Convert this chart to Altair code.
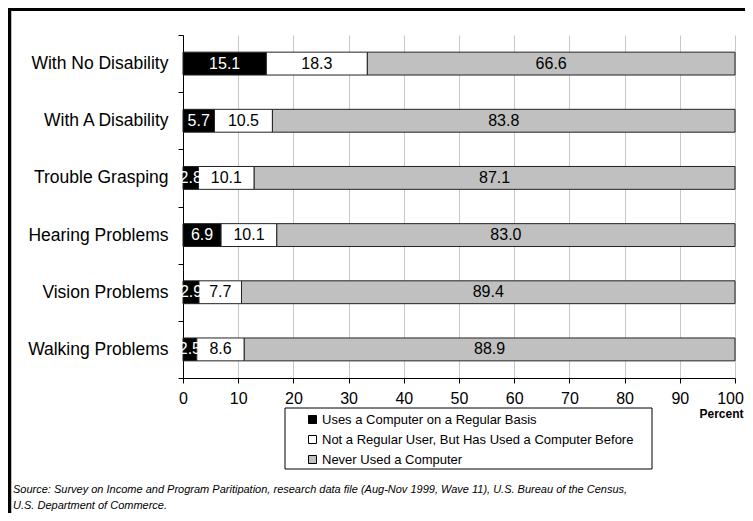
import altair as alt
import pandas as pd

groups = ["With No Disability", "With A Disability", "Trouble Grasping",
          "Hearing Problems", "Vision Problems", "Walking Problems"]
series = ["Uses a Computer on a Regular Basis",
          "Not a Regular User, But Has Used a Computer Before",
          "Never Used a Computer"]
regular = [15.1, 5.7, 2.8, 6.9, 2.9, 2.5]
used_before = [18.3, 10.5, 10.1, 10.1, 7.7, 8.6]
never = [66.6, 83.8, 87.1, 83.0, 89.4, 88.9]
bar_colors = ["#000000", "#ffffff", "#c0c0c0"]
label_colors = ["#ffffff", "#000000", "#000000"]
x_ticks = [0, 10, 20, 30, 40, 50, 60, 70, 80, 90, 100]
source_lines = [
    "Source: Survey on Income and Program Paritipation, research data file (Aug-Nov 1999, Wave 11),  U.S. Bureau of the Census,",
    "U.S. Department of Commerce.",
]

FONT = "Liberation Sans"

rows = []
for i, g in enumerate(groups):
    vals = [regular[i], used_before[i], never[i]]
    start = 0.0
    for s, v in zip(series, vals):
        rows.append({"group": g, "series": s, "value": v,
                     "start": start, "end": start + v, "mid": start + v / 2})
        start += v
df = pd.DataFrame(rows)

x_axis = alt.Axis(values=x_ticks, grid=True, gridColor="#c8c8c8", gridWidth=1,
                  domainColor="black", tickColor="black", tickSize=5,
                  labelFontSize=16, labelPadding=7, labelColor="black", labelFlush=False,
                  labelOffset={"condition": {"test": "datum.value === 100", "value": -5},
                               "value": 0},
                  title="Percent", titleX=560, titleY=39.5, titleAlign="right",
                  titleAnchor="end", titleBaseline="alphabetic",
                  titleFontWeight="bold", titleFontSize=12, titleColor="black")
y_axis = alt.Axis(title=None, grid=False, domainColor="black", tickColor="black",
                  tickSize=5, tickBand="extent", labelFontSize=17.5, labelPadding=10,
                  labelColor="black")
x_scale = alt.Scale(domain=[0, 100], nice=False, zero=True)
y_scale = alt.Scale(paddingInner=0, paddingOuter=0)

bars = alt.Chart(df).mark_bar(stroke="#222222", strokeWidth=1, height={"band": 0.4}).encode(
    y=alt.Y("group:N", sort=groups, scale=y_scale, axis=y_axis),
    x=alt.X("start:Q", scale=x_scale, axis=x_axis),
    x2="end:Q",
    fill=alt.Fill("series:N", scale=alt.Scale(domain=series, range=bar_colors),
                  legend=alt.Legend(orient="none", legendX=123, legendY=378, title=None,
                                    direction="vertical", symbolType="square",
                                    symbolSize=64, symbolStrokeColor="black",
                                    symbolStrokeWidth=1, labelFontSize=13, labelFont=FONT,
                                    labelColor="black", labelOffset=3, rowPadding=6,
                                    padding=0, labelLimit=600)),
)

labels = alt.Chart(df).mark_text(font=FONT, fontSize=16).encode(
    y=alt.Y("group:N", sort=groups, scale=y_scale, axis=y_axis),
    x=alt.X("mid:Q", scale=x_scale, axis=x_axis),
    text=alt.Text("value:Q", format=".1f"),
    color=alt.Color("series:N", scale=alt.Scale(domain=series, range=label_colors), legend=None),
)

one = pd.DataFrame({"k": [0]})

legend_box = alt.Chart(one).mark_rect(fill="white", stroke="black", strokeWidth=1).encode(
    x=alt.value(102), x2=alt.value(469), y=alt.value(373), y2=alt.value(434))

src1 = alt.Chart(one).mark_text(align="left", baseline="middle", fontStyle="italic",
                                fontSize=11, font=FONT, color="black").encode(
    x=alt.value(-170), y=alt.value(455), text=alt.value(source_lines[0]))
src2 = alt.Chart(one).mark_text(align="left", baseline="middle", fontStyle="italic",
                                fontSize=11, font=FONT, color="black").encode(
    x=alt.value(-170), y=alt.value(471), text=alt.value(source_lines[1]))

frame_top = alt.Chart(one).mark_rule(color="black", strokeWidth=3).encode(
    x=alt.value(-175), x2=alt.value(565), y=alt.value(-25.5))
frame_left = alt.Chart(one).mark_rule(color="black", strokeWidth=3.5).encode(
    x=alt.value(-173.5), y=alt.value(-27), y2=alt.value(480))

chart = alt.layer(bars, labels, legend_box, src1, src2, frame_top, frame_left).properties(
    width=552, height=343,
    padding={"left": 175, "top": 27, "right": 10, "bottom": 135},
    autosize=alt.AutoSizeParams(type="none"),
).configure(font=FONT).configure_view(strokeOpacity=0)

chart.save("out.html", embed_options={"renderer": "svg", "actions": False})
